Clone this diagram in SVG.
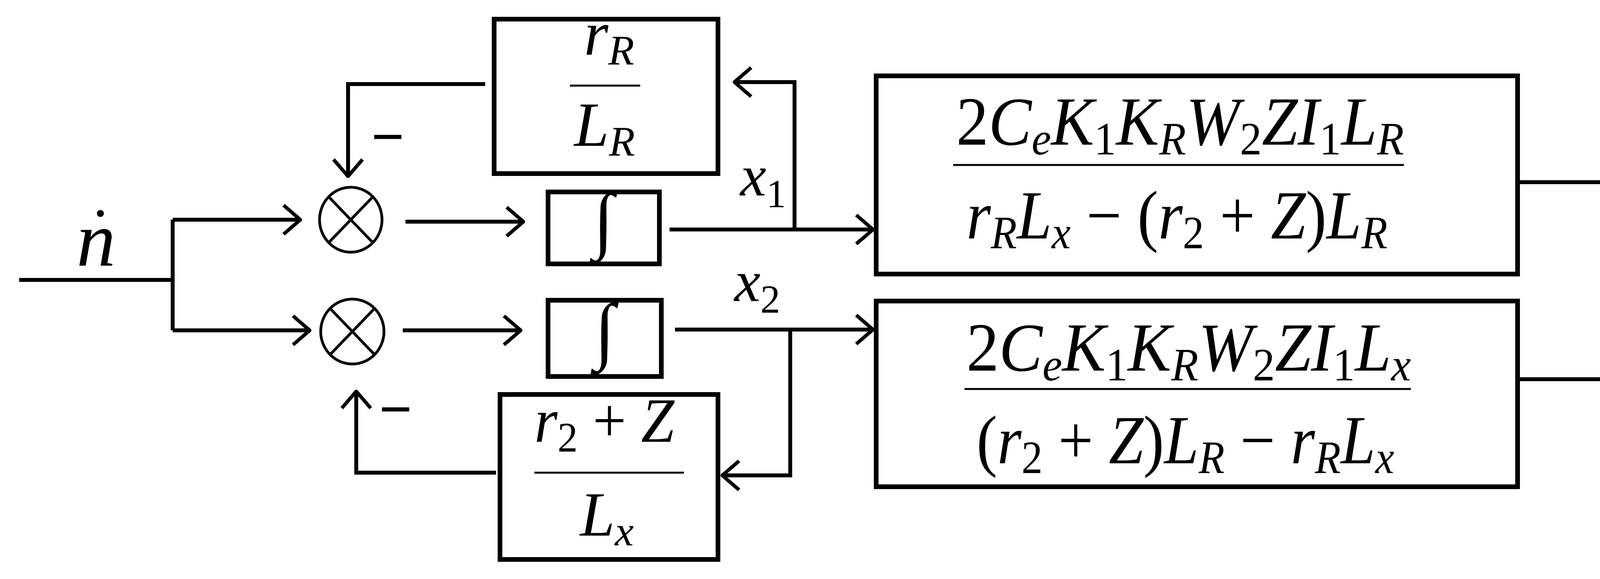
<svg xmlns="http://www.w3.org/2000/svg" width="4883" height="1481" viewBox="0 0 4883 1481">
<style>
.b{fill:none;stroke:#000;stroke-width:12}
.c{fill:none;stroke:#000;stroke-width:10}
.w{fill:none;stroke:#000;stroke-width:7}
.f{stroke:#000;stroke-width:5}
.t{font-family:'Liberation Serif','Times New Roman',serif;fill:#000}
.i{font-style:italic}
.s{font-size:0.68em}
</style>
<defs>
<marker id="ah" markerUnits="userSpaceOnUse" viewBox="0 0 50 80" refX="46" refY="40" markerWidth="50" markerHeight="80" orient="auto">
<path d="M3,3 L46,40 L3,77" fill="none" stroke="#000" stroke-width="9"/>
</marker>
</defs>
<rect width="4883" height="1481" fill="#fff"/>
<g id="connectors" class="c">
<path d="M49,716 H442"/>
<path d="M442,562 V845"/>
<path d="M442,562 H769" marker-end="url(#ah)"/>
<path d="M442,845 H793" marker-end="url(#ah)"/>
<path d="M1038,567 H1340" marker-end="url(#ah)"/>
<path d="M1031,845 H1333" marker-end="url(#ah)"/>
<path d="M1714,587 H2235" marker-end="url(#ah)"/>
<path d="M2034,587 V210 H1880" marker-end="url(#ah)"/>
<path d="M1728,843 H2235" marker-end="url(#ah)"/>
<path d="M2023,843 V1216 H1849" marker-end="url(#ah)"/>
<path d="M1242,215 H891 V451" marker-end="url(#ah)"/>
<path d="M1270,1209 H912 V1001" marker-end="url(#ah)"/>
<path d="M3885,466 H4388 V609" marker-end="url(#ah)"/>
<path d="M3885,970 H4392 V826" marker-end="url(#ah)"/>
<path d="M4535,722 H4826" marker-end="url(#ah)"/>
</g>
<g id="input-label"><text x="196" y="680" font-size="200" font-family="Liberation Serif, serif" class="t i">n</text><circle cx="257" cy="546" r="9"/></g>
<g id="sum1"><ellipse cx="898" cy="562" rx="80" ry="83" class="w"/><path class="w" d="M843,505 L953,619 M953,505 L843,619"/></g>
<g id="sum2"><ellipse cx="902" cy="848" rx="81" ry="83" class="w"/><path class="w" d="M847,791 L957,905 M957,791 L847,905"/></g>
<g id="sum3"><ellipse cx="4390" cy="720" rx="82" ry="83" class="w"/><path class="w" d="M4335,663 L4445,777 M4445,663 L4335,777"/></g>
<g id="int1"><rect x="1403" y="491" width="285" height="184" class="b"/><text x="1545" y="625" font-size="190" font-family="Liberation Serif, serif" class="t" text-anchor="middle">∫</text></g>
<g id="int2"><rect x="1403" y="768" width="290" height="195" class="b"/><text x="1548" y="908" font-size="190" font-family="Liberation Serif, serif" class="t" text-anchor="middle">∫</text></g>
<g id="fb1"><rect x="1265" y="49" width="573" height="395" class="b"/>
<text x="1495" y="140" font-size="160" font-family="Liberation Serif, serif" class="t i">r<tspan class="s" dy="25">R</tspan></text>
<line x1="1459" y1="219" x2="1639" y2="219" class="f"/>
<text x="1470" y="373" font-size="160" font-family="Liberation Serif, serif" class="t i">L<tspan class="s" dy="25">R</tspan></text></g>
<g id="fb2"><rect x="1280" y="1009" width="558" height="422" class="b"/>
<text x="1368" y="1130" font-size="160" font-family="Liberation Serif, serif" class="t" textLength="358" lengthAdjust="spacingAndGlyphs"><tspan class="i">r</tspan><tspan class="s" dy="25">2</tspan><tspan dy="-25"> + </tspan><tspan class="i">Z</tspan></text>
<line x1="1368" y1="1209" x2="1751" y2="1209" class="f"/>
<text x="1485" y="1370" font-size="160" font-family="Liberation Serif, serif" class="t i">L<tspan class="s" dy="25">x</tspan></text></g>
<g id="gain1"><rect x="2243" y="194" width="1642" height="507" class="b"/>
<text x="2448" y="370" font-size="175" font-family="Liberation Serif, serif" class="t" textLength="1146" lengthAdjust="spacingAndGlyphs">2<tspan class="i">C</tspan><tspan class="s i" dy="25">e</tspan><tspan class="i" dy="-25">K</tspan><tspan class="s" dy="25">1</tspan><tspan class="i" dy="-25">K</tspan><tspan class="s i" dy="25">R</tspan><tspan class="i" dy="-25">W</tspan><tspan class="s" dy="25">2</tspan><tspan class="i" dy="-25">ZI</tspan><tspan class="s" dy="25">1</tspan><tspan class="i" dy="-25">L</tspan><tspan class="s i" dy="25">R</tspan></text>
<line x1="2440" y1="422" x2="3594" y2="422" class="f"/>
<text x="2474" y="610" font-size="175" font-family="Liberation Serif, serif" class="t" textLength="1078" lengthAdjust="spacingAndGlyphs"><tspan class="i">r</tspan><tspan class="s i" dy="25">R</tspan><tspan class="i" dy="-25">L</tspan><tspan class="s i" dy="25">x</tspan><tspan dy="-25"> − (</tspan><tspan class="i">r</tspan><tspan class="s" dy="25">2</tspan><tspan dy="-25"> + </tspan><tspan class="i">Z</tspan>)<tspan class="i">L</tspan><tspan class="s i" dy="25">R</tspan></text></g>
<g id="gain2"><rect x="2243" y="770" width="1642" height="475" class="b"/>
<text x="2474" y="948" font-size="175" font-family="Liberation Serif, serif" class="t" textLength="1138" lengthAdjust="spacingAndGlyphs">2<tspan class="i">C</tspan><tspan class="s i" dy="25">e</tspan><tspan class="i" dy="-25">K</tspan><tspan class="s" dy="25">1</tspan><tspan class="i" dy="-25">K</tspan><tspan class="s i" dy="25">R</tspan><tspan class="i" dy="-25">W</tspan><tspan class="s" dy="25">2</tspan><tspan class="i" dy="-25">ZI</tspan><tspan class="s" dy="25">1</tspan><tspan class="i" dy="-25">L</tspan><tspan class="s i" dy="25">x</tspan></text>
<line x1="2469" y1="995" x2="3612" y2="995" class="f"/>
<text x="2500" y="1185" font-size="175" font-family="Liberation Serif, serif" class="t" textLength="1069" lengthAdjust="spacingAndGlyphs">(<tspan class="i">r</tspan><tspan class="s" dy="25">2</tspan><tspan dy="-25"> + </tspan><tspan class="i">Z</tspan>)<tspan class="i">L</tspan><tspan class="s i" dy="25">R</tspan><tspan dy="-25"> − </tspan><tspan class="i">r</tspan><tspan class="s i" dy="25">R</tspan><tspan class="i" dy="-25">L</tspan><tspan class="s i" dy="25">x</tspan></text></g>
<g id="labels">
<text x="1895" y="500" font-size="150" font-family="Liberation Serif, serif" class="t i">x<tspan class="s" dy="30" font-style="normal">1</tspan></text>
<text x="1880" y="770" font-size="150" font-family="Liberation Serif, serif" class="t i">x<tspan class="s" dy="30" font-style="normal">2</tspan></text>
<text x="4587" y="633" font-size="190" font-family="Liberation Serif, serif" class="t i">u<tspan class="s" dy="40" font-style="normal">2</tspan></text>
<text x="950" y="400" font-size="150" font-family="Liberation Serif, serif" class="t" font-weight="bold">−</text>
<text x="970" y="1097" font-size="150" font-family="Liberation Serif, serif" class="t" font-weight="bold">−</text>
<text x="4240" y="585" font-size="130" font-family="Liberation Serif, serif" class="t">+</text>
<text x="4257" y="922" font-size="130" font-family="Liberation Serif, serif" class="t">+</text>
</g>
</svg>
